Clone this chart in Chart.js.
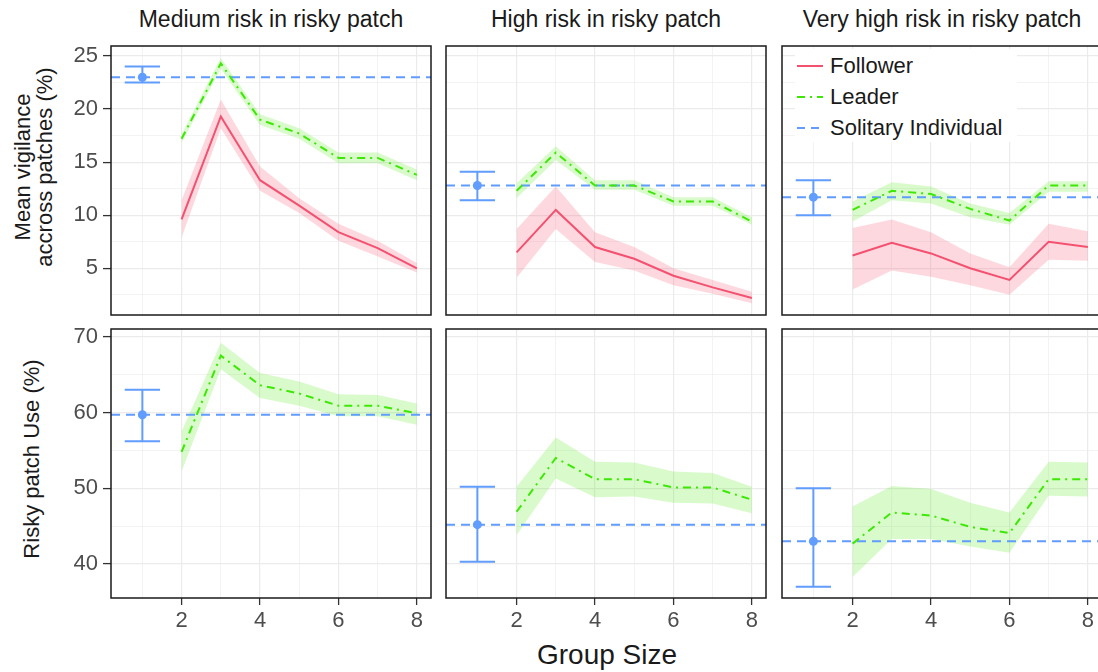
<!DOCTYPE html>
<html>
<head>
<meta charset="utf-8">
<script src="https://cdn.jsdelivr.net/npm/chart.js@4.4.0/dist/chart.umd.min.js"></script>
<style>
  body { margin:0; width:1098px; height:672px; overflow:hidden; background:#fff; position:relative;
         font-family:'Liberation Sans', Arial, Helvetica, sans-serif; }
  canvas { position:absolute; }
  .lbl { position:absolute; transform:translate(-50%,-50%); white-space:nowrap; line-height:1; color:#1a1a1a; }
  .ytitle { position:absolute; transform:translate(-50%,-50%) rotate(-90deg); white-space:nowrap;
            text-align:center; font-size:22px; line-height:22px; color:#1a1a1a; }
  #legend { position:absolute; left:795px; top:49px; width:222px; height:93px; background:#fff; }
  .key { position:absolute; left:0; height:30px; width:222px; }
  .key svg { position:absolute; left:2px; top:0; }
  .key span { position:absolute; left:35px; top:50%; transform:translateY(-50%); font-size:22px; line-height:1; color:#1a1a1a; }
</style>
</head>
<body>

<div class="lbl" style="left:271px; top:19px; font-size:23px;">Medium risk in risky patch</div>
<div class="lbl" style="left:606px; top:19px; font-size:23px;">High risk in risky patch</div>
<div class="lbl" style="left:942px; top:19px; font-size:23px;">Very high risk in risky patch</div>
<div class="ytitle" style="left:34px; top:167px;">Mean vigilance<br>accross patches (%)</div>
<div class="ytitle" style="left:32px; top:459px;">Risky patch Use (%)</div>
<div class="lbl" style="left:607px; top:655px; font-size:28px;">Group Size</div>

<script>
// ---- data ----
const groupSize = [2, 3, 4, 5, 6, 7, 8];
const riskTitles = ['Medium risk in risky patch', 'High risk in risky patch', 'Very high risk in risky patch'];

// mean vigilance across patches (%), one row per risk level
const followerVig   = [[9.6, 19.3, 13.3, 10.9, 8.4, 6.9, 5.0], [6.5, 10.5, 7.0, 5.9, 4.3, 3.2, 2.2], [6.2, 7.4, 6.4, 5.0, 3.9, 7.5, 7.0]];
const followerVigLo = [[7.9, 18.2, 12.3, 10.2, 7.6, 6.1, 4.6], [4.1, 8.7, 5.6, 4.8, 3.4, 2.6, 1.7], [3.0, 4.8, 4.2, 3.4, 2.5, 5.8, 5.7]];
const followerVigHi = [[11.4, 20.9, 14.6, 11.6, 9.2, 7.6, 5.5], [8.7, 12.7, 8.4, 7.0, 5.0, 3.9, 2.8], [8.8, 9.6, 8.4, 6.4, 5.1, 9.2, 8.5]];
const leaderVig     = [[17.2, 24.3, 19.0, 17.7, 15.4, 15.4, 13.8], [12.3, 15.9, 12.8, 12.8, 11.3, 11.3, 9.4], [10.5, 12.3, 12.0, 10.6, 9.5, 12.8, 12.8]];
const leaderVigLo   = [[16.8, 23.8, 18.5, 17.2, 14.9, 14.9, 13.3], [11.6, 15.2, 12.4, 12.4, 10.9, 10.9, 9.1], [9.4, 11.4, 11.1, 9.8, 9.1, 12.2, 12.2]];
const leaderVigHi   = [[17.6, 24.8, 19.5, 18.2, 15.9, 15.9, 14.3], [13.0, 16.5, 13.3, 13.3, 11.7, 11.7, 9.8], [11.3, 13.1, 12.7, 11.1, 10.2, 13.2, 13.2]];
const soloVig   = [23.0, 12.8, 11.7];
const soloVigLo = [22.5, 11.4, 10.0];
const soloVigHi = [24.0, 14.1, 13.3];

// risky patch use (%)
const leaderUse   = [[54.8, 67.5, 63.6, 62.5, 60.9, 60.9, 59.9], [46.9, 54.0, 51.2, 51.2, 50.1, 50.1, 48.5], [42.7, 46.8, 46.4, 44.9, 44.1, 51.2, 51.2]];
const leaderUseLo = [[52.2, 65.7, 61.9, 60.9, 59.5, 59.5, 58.4], [43.8, 51.3, 48.8, 48.9, 48.1, 48.0, 46.7], [38.3, 43.3, 43.3, 42.3, 41.5, 49.0, 48.9]];
const leaderUseHi = [[57.5, 69.2, 65.2, 64.1, 62.4, 62.3, 61.2], [50.2, 56.7, 53.5, 53.4, 52.2, 52.0, 50.2], [47.6, 50.3, 49.9, 48.1, 46.8, 53.5, 53.4]];
const soloUse   = [59.7, 45.2, 43.0];
const soloUseLo = [56.2, 40.3, 37.0];
const soloUseHi = [63.0, 50.2, 50.0];

const sizeTicks = [2, 4, 6, 8];
const vigTicks  = [5, 10, 15, 20, 25];
const useTicks  = [40, 50, 60, 70];

// ---- layout / style ----
const PANEL_LEFT = [111, 446, 782];
const PANEL_TOP = [46, 329];
const PANEL_W = 320, PANEL_H = 269;
const PAD_L = 100, PAD_T = 6, PAD_R = 6, PAD_B = 50;
const xRange = [0.2, 8.36];
const yRanges = [[0.6, 25.94], [35.52, 71.02]];
const SOLO_X = 1, CAP = 0.45;

const RED = '#F4506F', GREEN = '#3DE805', BLUE = '#619CFF';
const RED_FILL = 'rgba(244,80,111,0.22)', GREEN_FILL = 'rgba(80,235,20,0.22)';
const GRID = '#EBEBEB', TXT = '#4D4D4D';

Chart.defaults.font.family = "'Liberation Sans', Arial, Helvetica, sans-serif";

function pts(ys) { return groupSize.map((x, i) => ({ x: x, y: ys[i] })); }

function ribbon(lo, hi, fill) {
  return [
    { data: pts(hi), borderWidth: 0, borderColor: 'rgba(0,0,0,0)', pointRadius: 0, fill: false, order: 6 },
    { data: pts(lo), borderWidth: 0, borderColor: 'rgba(0,0,0,0)', pointRadius: 0, fill: '-1', backgroundColor: fill, order: 6 }
  ];
}

function solitary(v, lo, hi) {
  return [
    { data: [{ x: xRange[0], y: v }, { x: xRange[1], y: v }], borderColor: BLUE, borderWidth: 2, borderDash: [9, 6], pointRadius: 0, order: 3 },
    { data: [{ x: SOLO_X - CAP, y: hi }, { x: SOLO_X + CAP, y: hi }, { x: SOLO_X, y: null },
             { x: SOLO_X, y: hi }, { x: SOLO_X, y: lo }, { x: SOLO_X, y: null },
             { x: SOLO_X - CAP, y: lo }, { x: SOLO_X + CAP, y: lo }],
      borderColor: BLUE, borderWidth: 2, pointRadius: 0, spanGaps: false, order: 1 },
    { data: [{ x: SOLO_X, y: v }], showLine: false, pointRadius: 4.5, pointBackgroundColor: BLUE, pointBorderWidth: 0, order: 0 }
  ];
}

const panelBorder = {
  id: 'panelBorder',
  afterDatasetsDraw(chart) {
    const a = chart.chartArea, ctx = chart.ctx;
    ctx.save();
    ctx.strokeStyle = '#1a1a1a';
    ctx.lineWidth = 1.5;
    ctx.strokeRect(a.left, a.top, a.right - a.left, a.bottom - a.top);
    ctx.restore();
  }
};

function makePanel(row, col) {
  const cv = document.createElement('canvas');
  const w = PANEL_W + PAD_L + PAD_R, h = PANEL_H + PAD_T + PAD_B;
  cv.width = w; cv.height = h;
  cv.style.left = (PANEL_LEFT[col] - PAD_L) + 'px';
  cv.style.top = (PANEL_TOP[row] - PAD_T) + 'px';
  document.body.appendChild(cv);

  let sets = [];
  if (row === 0) {
    sets = sets.concat(ribbon(followerVigLo[col], followerVigHi[col], RED_FILL));
    sets = sets.concat(ribbon(leaderVigLo[col], leaderVigHi[col], GREEN_FILL));
    sets.push({ data: pts(followerVig[col]), borderColor: RED, borderWidth: 2, pointRadius: 0, order: 2 });
    sets.push({ data: pts(leaderVig[col]), borderColor: GREEN, borderWidth: 2, borderDash: [8, 5, 2, 5], pointRadius: 0, order: 2 });
    sets = sets.concat(solitary(soloVig[col], soloVigLo[col], soloVigHi[col]));
  } else {
    sets = sets.concat(ribbon(leaderUseLo[col], leaderUseHi[col], GREEN_FILL));
    sets.push({ data: pts(leaderUse[col]), borderColor: GREEN, borderWidth: 2, borderDash: [8, 5, 2, 5], pointRadius: 0, order: 2 });
    sets = sets.concat(solitary(soloUse[col], soloUseLo[col], soloUseHi[col]));
  }

  const yTicks = row === 0 ? vigTicks : useTicks;
  const yStep = row === 0 ? 2.5 : 5;
  const isMajorY = v => yTicks.includes(v);
  const isMajorX = v => sizeTicks.includes(v);

  new Chart(cv, {
    type: 'line',
    data: { datasets: sets },
    options: {
      responsive: false,
      animation: false,
      events: [],
      layout: { padding: { top: PAD_T, right: PAD_R, left: 0, bottom: 0 } },
      plugins: { legend: { display: false }, tooltip: { enabled: false } },
      scales: {
        x: {
          type: 'linear', min: xRange[0], max: xRange[1],
          afterFit: s => { s.height = PAD_B; s.paddingLeft = 0; s.paddingRight = 0; },
          ticks: { stepSize: 1, includeBounds: false, display: row === 1, autoSkip: false, maxRotation: 0,
                   color: TXT, font: { size: 22 }, padding: 3,
                   callback: v => isMajorX(v) ? String(v) : '' },
          grid: { color: GRID, lineWidth: c => isMajorX(c.tick.value) ? 1.2 : 0.6,
                  drawTicks: row === 1, tickLength: 7, tickWidth: 1.3,
                  tickColor: c => isMajorX(c.tick.value) ? '#333' : 'rgba(0,0,0,0)' },
          border: { display: false }
        },
        y: {
          type: 'linear', min: yRanges[row][0], max: yRanges[row][1],
          afterFit: s => { s.width = PAD_L; s.paddingTop = 0; s.paddingBottom = 0; },
          ticks: { stepSize: yStep, includeBounds: false, display: col === 0, autoSkip: false,
                   color: TXT, font: { size: 22 }, padding: 5,
                   callback: v => isMajorY(v) ? String(v) : '' },
          grid: { color: GRID, lineWidth: c => isMajorY(c.tick.value) ? 1.2 : 0.6,
                  drawTicks: col === 0, tickLength: 8, tickWidth: 1.3,
                  tickColor: c => isMajorY(c.tick.value) ? '#333' : 'rgba(0,0,0,0)' },
          border: { display: false }
        }
      }
    },
    plugins: [panelBorder]
  });
}

for (let r = 0; r < 2; r++) for (let c = 0; c < 3; c++) makePanel(r, c);
</script>

<div id="legend">
  <div class="key" style="top:2px;">
    <svg width="30" height="30"><line x1="0" y1="15" x2="26" y2="15" stroke="#F4506F" stroke-width="2"/></svg>
    <span>Follower</span>
  </div>
  <div class="key" style="top:33px;">
    <svg width="30" height="30"><line x1="0" y1="15" x2="26" y2="15" stroke="#3DE805" stroke-width="2" stroke-dasharray="8 5 2 5"/></svg>
    <span>Leader</span>
  </div>
  <div class="key" style="top:64px;">
    <svg width="30" height="30"><line x1="0" y1="15" x2="26" y2="15" stroke="#619CFF" stroke-width="2" stroke-dasharray="8 6"/></svg>
    <span>Solitary Individual</span>
  </div>
</div>
</body>
</html>
